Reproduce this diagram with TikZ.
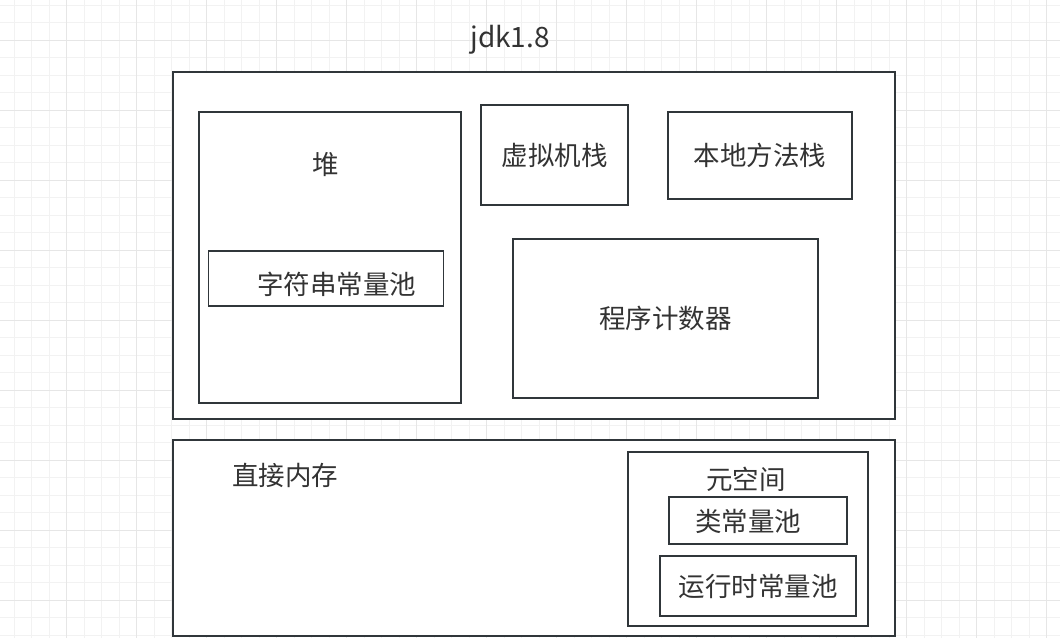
\documentclass[tikz,border=0pt]{standalone}
\usepackage{fontspec}
\setmainfont{Noto Sans CJK SC}
\usetikzlibrary{positioning}
\definecolor{gridminor}{HTML}{F2F2F2}
\definecolor{gridmajor}{HTML}{E6E6E6}
\definecolor{boxline}{HTML}{30363A}
\definecolor{txt}{HTML}{333333}
\begin{document}
\begin{tikzpicture}[x=1pt,y=-1pt,
  box/.style={draw=boxline,line width=1.9pt,fill=white,inner sep=0pt},
  lbl/.style={anchor=center,inner sep=0pt,text=txt,font=\fontsize{26.5}{31}\selectfont}]
\path[use as bounding box,fill=white] (0,0) rectangle (1060,638);
% grid
\foreach \x in {14.2,31.7,...,1060} \draw[gridminor,line width=1pt] (\x,0) -- (\x,638);
\foreach \y in {5,22.5,...,638} \draw[gridminor,line width=1pt] (0,\y) -- (1060,\y);
\foreach \x in {66.7,136.7,...,1060} \draw[gridmajor,line width=1pt] (\x,0) -- (\x,638);
\foreach \y in {40,110,...,638} \draw[gridmajor,line width=1pt] (0,\y) -- (1060,\y);
\node[lbl,font=\fontsize{28}{32}\selectfont] (title) at (510,40) {jdk1.8};
% jvm part
\node[box,minimum width=722pt,minimum height=347pt] (jvm) at (534,245.5) {};
\node[box,minimum width=262pt,minimum height=291pt] (heap) at (330,257.5) {};
\node[lbl] (heaplbl) at (325.5,165) {堆};
\node[box,minimum width=235pt,minimum height=55pt] (strpool) at (326,278.5) {};
\node[lbl] (strpoollbl) at (336.5,284) {字符串常量池};
\node[box,lbl,minimum width=147pt,minimum height=100pt] (vmstack) at (554.5,155) {虚拟机栈};
\node[box,lbl,minimum width=184pt,minimum height=87pt] (native) at (760,155.5) {本地方法栈};
\node[box,lbl,minimum width=305pt,minimum height=159pt] (pc) at (665.5,318.5) {程序计数器};
% direct memory
\node[box,minimum width=722pt,minimum height=196pt] (direct) at (534,538) {};
\node[lbl] (directlbl) at (285,475) {直接内存};
\node[box,minimum width=240pt,minimum height=174pt] (meta) at (748,539) {};
\node[lbl] (metalbl) at (746,479) {元空间};
\node[box,minimum width=178pt,minimum height=47pt] (classpool) at (758,520.5) {};
\node[lbl] (classpoollbl) at (748,521) {类常量池};
\node[box,lbl,minimum width=196pt,minimum height=60pt] (rtpool) at (758,586) {运行时常量池};
\end{tikzpicture}
\end{document}
